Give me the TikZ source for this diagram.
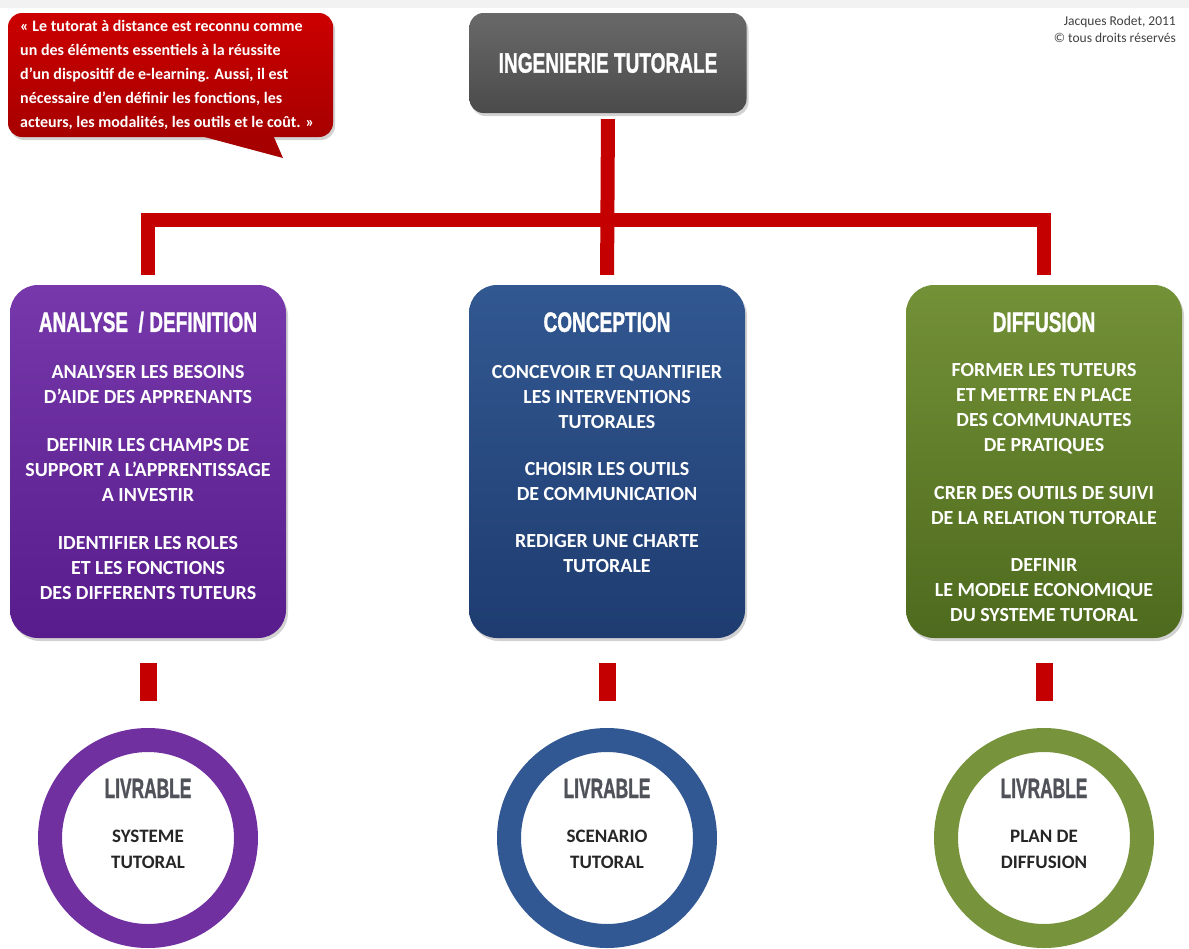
\documentclass[tikz,border=0pt]{standalone}
\usepackage{fontspec}
\usepackage{graphicx}
\setmainfont{Carlito}
\newfontfamily\heavyfont[BoldFeatures={FakeBold=1.5}]{Liberation Sans}
\usetikzlibrary{shadows}

\definecolor{tutred}{RGB}{196,0,0}
\definecolor{titlegray}{RGB}{88,88,88}
\definecolor{purptop}{RGB}{118,56,170}
\definecolor{purpbot}{RGB}{88,28,140}
\definecolor{bluetop}{RGB}{50,88,145}
\definecolor{bluebot}{RGB}{30,60,112}
\definecolor{greentop}{RGB}{115,145,55}
\definecolor{greenbot}{RGB}{78,106,30}
\definecolor{purpring}{RGB}{112,48,160}
\definecolor{bluering}{RGB}{50,88,148}
\definecolor{greenring}{RGB}{119,147,60}
\definecolor{livgray}{RGB}{80,82,90}

% condensed heavy capitals
\newcommand{\cond}[2][0.68]{\scalebox{#1}[1]{\heavyfont\bfseries\fontsize{28}{28}\selectfont #2}}

\begin{document}
\begin{tikzpicture}[x=1pt,y=-1pt,
  shadowed/.style={drop shadow={opacity=0.35,shadow xshift=2pt,shadow yshift=-3pt}},
  box/.style={rounded corners=28pt,minimum width=276pt,minimum height=353pt,shadowed},
  head/.style={anchor=base,text=white,inner sep=0pt},
  body/.style={anchor=north,align=center,text=white,inner sep=0pt,
    font=\bfseries\fontsize{20}{25}\selectfont},
  ring/.style={circle,line width=24pt,minimum size=196pt,fill=white},
  livhead/.style={anchor=base,text=livgray,inner sep=0pt},
  livbody/.style={align=center,text=black!85,inner sep=0pt,
    font=\bfseries\fontsize{19}{26}\selectfont},
  redbar/.style={draw=tutred,line width=14pt},
  redstub/.style={draw=tutred,line width=17pt}]
\useasboundingbox (0,0) rectangle (1189,948);
\fill[white] (0,0) rectangle (1189,948);
\fill[black!5] (0,0) rectangle (1189,8);

% bulle
\shade[top color=red!80!black,bottom color=tutred!85!black,rounded corners=14pt,shadowed] (8,13) rectangle (333,137);
\fill[tutred!85!black] (197,135) -- (283,158) -- (273,135) -- cycle;
\node[anchor=north west,align=left,text=white,inner sep=0pt,
  font=\bfseries\fontsize{16}{24}\selectfont] (quote) at (20,20)
  {« Le tutorat à distance est reconnu comme\\
   un des éléments essentiels à la réussite\\
   d'un dispositif de e-learning. Aussi, il est\\
   nécessaire d'en définir les fonctions, les\\
   acteurs, les modalités, les outils et le coût. »};

% titre
\node[rounded corners=14pt,minimum width=277pt,minimum height=100pt,
  top color=titlegray!90!white,bottom color=titlegray!85!black,shadowed,text=white]
  (title) at (608,63) {\cond{INGENIERIE TUTORALE}};

\node[anchor=base east,inner sep=0pt,text=black!75,font=\fontsize{13.5}{16}\selectfont]
  (cr1) at (1176,25) {Jacques Rodet, 2011};
\node[anchor=base east,inner sep=0pt,text=black!75,font=\fontsize{13.5}{16}\selectfont]
  (cr2) at (1176,42) {© tous droits réservés};

% les trois phases
\node[box,top color=purptop,bottom color=purpbot] (box1) at (148,461.5) {};
\node[box,top color=bluetop,bottom color=bluebot] (box2) at (607,461.5) {};
\node[box,top color=greentop,bottom color=greenbot] (box3) at (1044,461.5) {};

\node[head] (h1) at ([yshift=-47pt]box1.north) {\cond{ANALYSE \ / DEFINITION}};
\node[head] (h2) at ([yshift=-47pt]box2.north) {\cond{CONCEPTION}};
\node[head] (h3) at ([yshift=-47pt]box3.north) {\cond{DIFFUSION}};

\node[body] (t1) at ([yshift=-80pt]box1.north)
  {ANALYSER LES BESOINS\\ D’AIDE DES APPRENANTS\\[23pt]
   DEFINIR LES CHAMPS DE\\ SUPPORT A L’APPRENTISSAGE\\ A INVESTIR\\[23pt]
   IDENTIFIER LES ROLES\\ ET LES FONCTIONS\\ DES DIFFERENTS TUTEURS};
\node[body] (t2) at ([yshift=-80pt]box2.north)
  {CONCEVOIR ET QUANTIFIER\\ LES INTERVENTIONS\\ TUTORALES\\[22pt]
   CHOISIR LES OUTILS\\ DE COMMUNICATION\\[22pt]
   REDIGER UNE CHARTE\\ TUTORALE};
\node[body] (t3) at ([yshift=-78pt]box3.north)
  {FORMER LES TUTEURS\\ ET METTRE EN PLACE\\ DES COMMUNAUTES\\ DE PRATIQUES\\[23pt]
   CRER DES OUTILS DE SUIVI\\ DE LA RELATION TUTORALE\\[22pt]
   DEFINIR\\ LE MODELE ECONOMIQUE\\ DU SYSTEME TUTORAL};

% livrables
\node[ring,draw=purpring] (liv1) at (box1.south |- 0,838) {};
\node[ring,draw=bluering] (liv2) at (box2.south |- 0,838) {};
\node[ring,draw=greenring] (liv3) at (box3.south |- 0,838) {};

\node[livhead] (lh1) at ([yshift=40pt]liv1.center) {\cond[0.62]{LIVRABLE}};
\node[livhead] (lh2) at ([yshift=40pt]liv2.center) {\cond[0.62]{LIVRABLE}};
\node[livhead] (lh3) at ([yshift=40pt]liv3.center) {\cond[0.62]{LIVRABLE}};
\node[livbody] (lb1) at ([yshift=-11pt]liv1.center) {SYSTEME\\ TUTORAL};
\node[livbody] (lb2) at ([yshift=-11pt]liv2.center) {SCENARIO\\ TUTORAL};
\node[livbody] (lb3) at ([yshift=-11pt]liv3.center) {PLAN DE\\ DIFFUSION};

% liaisons
\coordinate (fork) at (title.south |- 0,220);
\draw[redbar,shorten <=10pt,shorten >=10pt] (box1.north) |- (fork) -| (box3.north);
\draw[redbar,shorten <=6pt,shorten >=10pt] (title.south) -- (box2.north);
\draw[redstub,shorten <=25pt,shorten >=27pt] (box1.south) -- (liv1.north);
\draw[redstub,shorten <=25pt,shorten >=27pt] (box2.south) -- (liv2.north);
\draw[redstub,shorten <=25pt,shorten >=27pt] (box3.south) -- (liv3.north);
\end{tikzpicture}
\end{document}
